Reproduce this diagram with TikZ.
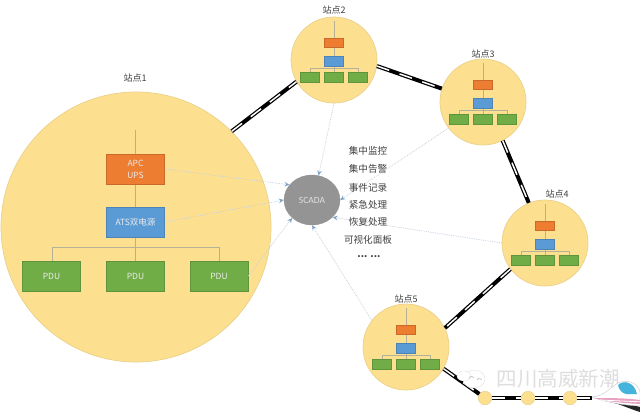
\documentclass[tikz,border=0pt]{standalone}
\usepackage{fontspec}
\setmainfont{Carlito}
\newfontfamily\cjk{Noto Sans CJK SC}
\usetikzlibrary{shapes.geometric,arrows.meta}
\definecolor{sitefill}{HTML}{FDE08F}
\definecolor{siteline}{HTML}{EBD08A}
\definecolor{upsc}{HTML}{ED7D31}
\definecolor{atsc}{HTML}{5B9BD5}
\definecolor{pduc}{HTML}{70AD47}
\definecolor{treec}{HTML}{B5B098}
\definecolor{dotc}{HTML}{C8D2DE}
\definecolor{tipc}{HTML}{7FA3C7}
\definecolor{txtc}{HTML}{404040}
\definecolor{trainblue}{HTML}{45B4DC}
\definecolor{trainpink}{HTML}{E8A0C0}
\tikzset{
 x=1pt,y=-1pt,
 site/.style={circle,draw=siteline,fill=sitefill,line width=.7pt,inner sep=0pt,minimum size=#1},
 sitelabel/.style={font=\cjk\fontsize{9}{10}\selectfont,text=txtc,inner sep=0pt},
 sbox/.style={rectangle,draw=#1!85!black,fill=#1,line width=.5pt,inner sep=0pt,minimum width=19pt,minimum height=9.5pt},
 bbox/.style={rectangle,draw=#1!85!black,fill=#1,line width=.6pt,inner sep=0pt,minimum width=58pt,minimum height=30pt,text=white!92!black,align=center,font=\cjk\fontsize{8.5}{12}\selectfont},
 tree/.style={draw=treec,line width=.5pt},
 monitor/.style={draw=dotc,line width=.8pt,densely dotted,-{Stealth[length=5pt,width=4.5pt,color=tipc]}},
 raila/.style={draw=black,line width=4pt},
 railb/.style={draw=white,line width=1.5pt,dash pattern=on 13pt off 11pt},
 func/.style={font=\cjk\fontsize{9.6}{11}\selectfont,text=txtc,inner sep=0pt},
 stop/.style={circle,fill=sitefill,draw=siteline,line width=.5pt,inner sep=0pt,minimum size=13.5pt}
}
\newcommand{\smallsite}[3]{%
 \node[site=86pt] (#1) at (#2,#3) {};
 \draw[tree] (#2,#3-39) -- (#2,#3+12);
 \draw[tree] (#2-24,#3+13) -- (#2-24,#3+8) -- (#2+24,#3+8) -- (#2+24,#3+13);
 \node[sbox=upsc] (#1u) at (#2,#3-17.5) {};
 \node[sbox=atsc] (#1a) at (#2,#3+1) {};
 \node[sbox=pduc] (#1p) at (#2-24,#3+17) {};
 \node[sbox=pduc] (#1q) at (#2,#3+17) {};
 \node[sbox=pduc] (#1r) at (#2+24,#3+17) {};
}
\begin{document}
\begin{tikzpicture}
\useasboundingbox[fill=white] (0,0) rectangle (640,413);
\clip (0,0) rectangle (640,413);
% large site
\node[site=270pt] (s1) at (136,227) {};
\draw[tree] (135.5,130) -- (135.5,261);
\draw[tree] (52,261) -- (52,247) -- (219,247) -- (219,261);
\node[bbox=upsc] (apc) at (135.5,169) {APC\\UPS};
\node[bbox=atsc] (ats) at (135.5,222) {ATS双电源};
\node[bbox=pduc] (p1) at (51.5,276) {PDU};
\node[bbox=pduc] (p2) at (135.5,276) {PDU};
\node[bbox=pduc] (p3) at (219,276) {PDU};
\node[sitelabel] (l1) at (135,78) {站点1};
% small sites
\smallsite{s2}{334}{60}
\smallsite{s3}{483}{102}
\smallsite{s4}{545}{243}
\smallsite{s5}{406}{347}
\node[sitelabel] (l2) at (334,10) {站点2};
\node[sitelabel] (l3) at (483,54) {站点3};
\node[sitelabel] (l4) at (557,194) {站点4};
\node[sitelabel] (l5) at (406,299) {站点5};
% SCADA
\node[ellipse,fill=black!42,draw=black!42,inner sep=0pt,minimum width=56pt,minimum height=50pt,text=white!88!black,font=\fontsize{9.5}{11}\selectfont] (scada) at (312,200) {SCADA};
% stops
\node[stop] (t1) at (485,398) {};
\node[stop] (t2) at (528,398) {};
\node[stop] (t3) at (570,398) {};
\coordinate (tend) at (592,398);
% railway
\foreach \a/\b in {s1.45.6/s2.210,s2.-8/s3.162,s3.-63/s4.112,s4.217/s5.26,s5.-30/t1,t1/t2,t2/t3,t3/tend}{
 \path[raila] (\a) -- (\b);
 \path[railb] (\a) -- (\b);
}
% monitoring
\draw[monitor] (apc.east) -- (scada.146);
\draw[monitor] (ats.east) -- (scada.west);
\draw[monitor] (p3.east) -- (scada.222);
\draw[monitor] (s2.-90) -- (scada.75);
\draw[monitor] (s3.217) -- (scada.0);
\draw[monitor] (s4.180) -- (scada.-40);
\draw[monitor] (s5.142) -- (scada.-90);
% functions
\node[func] (f1) at (368,151) {集中监控};
\node[func] (f2) at (368,169) {集中告警};
\node[func] (f3) at (368,188) {事件记录};
\node[func] (f4) at (368,205) {紧急处理};
\node[func] (f5) at (368,222) {恢复处理};
\node[func] (f6) at (368,240) {可视化面板};
\node[func] (f7) at (369,257) {\textbf{... ...}};
% watermark
\fill[white,draw=black!12,line width=.4pt] (474,379) ellipse (11 and 9);
\fill[white,draw=black!12,line width=.4pt] (464,376) ellipse (7 and 5);
\draw[black!30,line width=.5pt] (469,378) arc (200:340:2.5);
\draw[black!30,line width=.5pt] (477,380) arc (200:340:2.5);
\node[inner sep=0pt,text=black!13,font=\cjk\fontsize{20.5}{22}\selectfont] (wm) at (558,379) {四川高威新潮};
% train
\fill[black!85] (610,402) .. controls (620,404) and (630,409) .. (640,412) -- (640,407) .. controls (630,404) and (620,402) .. (610,402) -- cycle;
\path[fill=white,draw=black!22,line width=.4pt] (592,397) .. controls (604,396) and (610,388) .. (618,383) .. controls (626,379) and (638,382) .. (640,392) -- (640,406) .. controls (622,405) and (604,402) .. (592,397) -- cycle;
\fill[trainpink] (594,398) .. controls (610,398) and (625,398) .. (640,400) -- (640,404) .. controls (624,403) and (608,402) .. (594,398) -- cycle;
\fill[white] (600,399.6) -- (640,401.4) -- (640,402.2) -- (600,400.4) -- cycle;
\fill[trainblue] (618,385) .. controls (623,380) and (634,381) .. (637,394) -- (626,394) .. controls (622,393) and (619,390) .. (618,385) -- cycle;
\end{tikzpicture}
\end{document}
